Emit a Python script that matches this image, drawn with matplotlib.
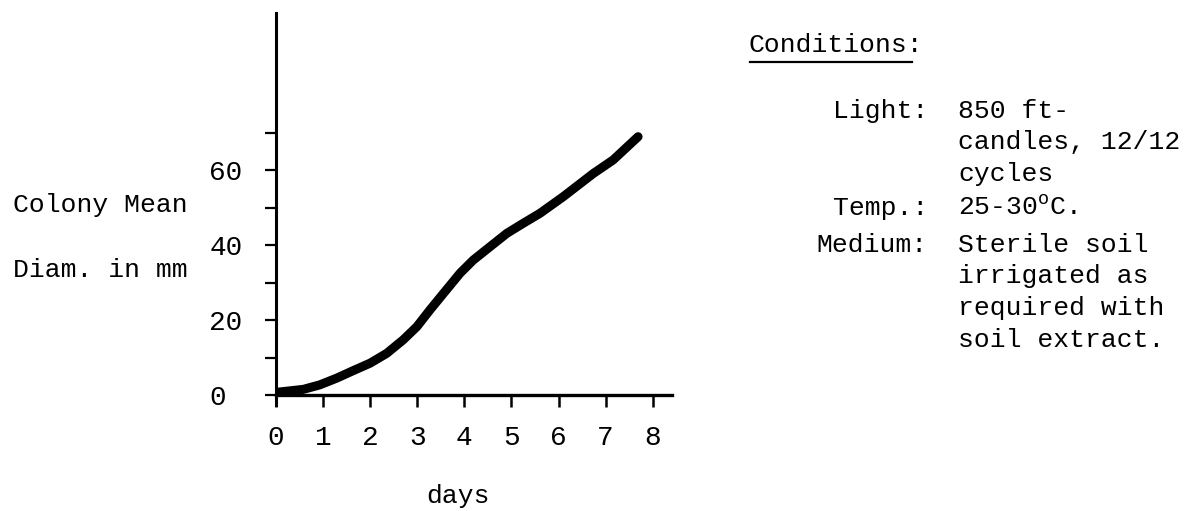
import matplotlib
matplotlib.use("Agg")
import matplotlib.pyplot as plt
from matplotlib.lines import Line2D

plt.rcParams['font.family'] = ['Liberation Mono', 'DejaVu Sans Mono']
plt.rcParams['mathtext.fontset'] = 'custom'
plt.rcParams['mathtext.rm'] = 'Liberation Mono'

# growth curve
days = [0, 0.58, 0.93, 1.29, 1.64, 2.00, 2.35, 2.70, 2.99, 3.27, 3.55, 3.91, 4.19,
        4.54, 4.90, 5.25, 5.61, 6.10, 6.74, 7.16, 7.69]
diam = [0.7, 1.5, 2.7, 4.5, 6.5, 8.5, 11.1, 14.7, 18.2, 22.7, 27.0, 32.5, 36.0,
        39.5, 43.1, 45.8, 48.5, 52.9, 59.1, 62.7, 68.9]

xtick_vals = [0, 1, 2, 3, 4, 5, 6, 7, 8]
xtick_labels = ["0", "1", "2", "3", "4", "5", "6", "7", "8"]
ytick_vals = [0, 10, 20, 30, 40, 50, 60, 70]
ytick_labels = ["0", "", "20", "", "40", "", "60", ""]

cond_keys = ["Light:", "Temp.:", "Medium:"]
cond_lines = [["850 ft-", "candles, 12/12", "cycles"],
              [r"25-30$^{\mathrm{o}}$C."],
              ["Sterile soil", "irrigated as", "required with", "soil extract."]]

W, H = 1190, 511
fig = plt.figure(figsize=(W / 100, H / 100), dpi=100)
ax = fig.add_axes([276 / W, 1 - 405 / H, (672 - 276) / W, 392 / H])

ax.plot(days, diam, color="black", linewidth=6.5, solid_capstyle="round", solid_joinstyle="round")

ax.set_xlim(0, 8.41)
ax.set_ylim(-2.67, 101.9)
ax.spines["top"].set_visible(False)
ax.spines["right"].set_visible(False)
ax.spines["bottom"].set_position(("data", 0))
ax.spines["bottom"].set_linewidth(2.4)
ax.spines["left"].set_linewidth(2.2)

ax.set_xticks(xtick_vals)
ax.set_xticklabels(xtick_labels, fontsize=20)
ax.set_yticks(ytick_vals)
ax.set_yticklabels(ytick_labels, fontsize=20)
ax.tick_params(axis="x", direction="out", length=8.5, width=1.8, pad=13)
ax.tick_params(axis="y", direction="out", length=8, width=1.6, pad=40)
for lab in ax.get_yticklabels():
    lab.set_horizontalalignment("left")

# axis titles
fig.text(13 / W, 1 - 212 / H, "Colony Mean", fontsize=19, va="baseline")
fig.text(13 / W, 1 - 277 / H, "Diam. in mm", fontsize=19, va="baseline")
fig.text(458 / W, 1 - 503 / H, "days", fontsize=19, ha="center", va="baseline")

# conditions block
fig.text(748 / W, 1 - 52 / H, "Conditions:", fontsize=19, va="baseline")
fig.add_artist(Line2D([750 / W, 912 / W], [1 - 62 / H, 1 - 62 / H], color="black", linewidth=1.6))

key_y = [118, 215, 252]
y_step = 31.5
for key, ky, lines in zip(cond_keys, key_y, cond_lines):
    fig.text(928 / W, 1 - ky / H, key, fontsize=19, ha="right", va="baseline")
    for i, line in enumerate(lines):
        fig.text(958 / W, 1 - (ky + i * y_step) / H, line, fontsize=19, va="baseline")

fig.savefig("out.png", dpi=100)
